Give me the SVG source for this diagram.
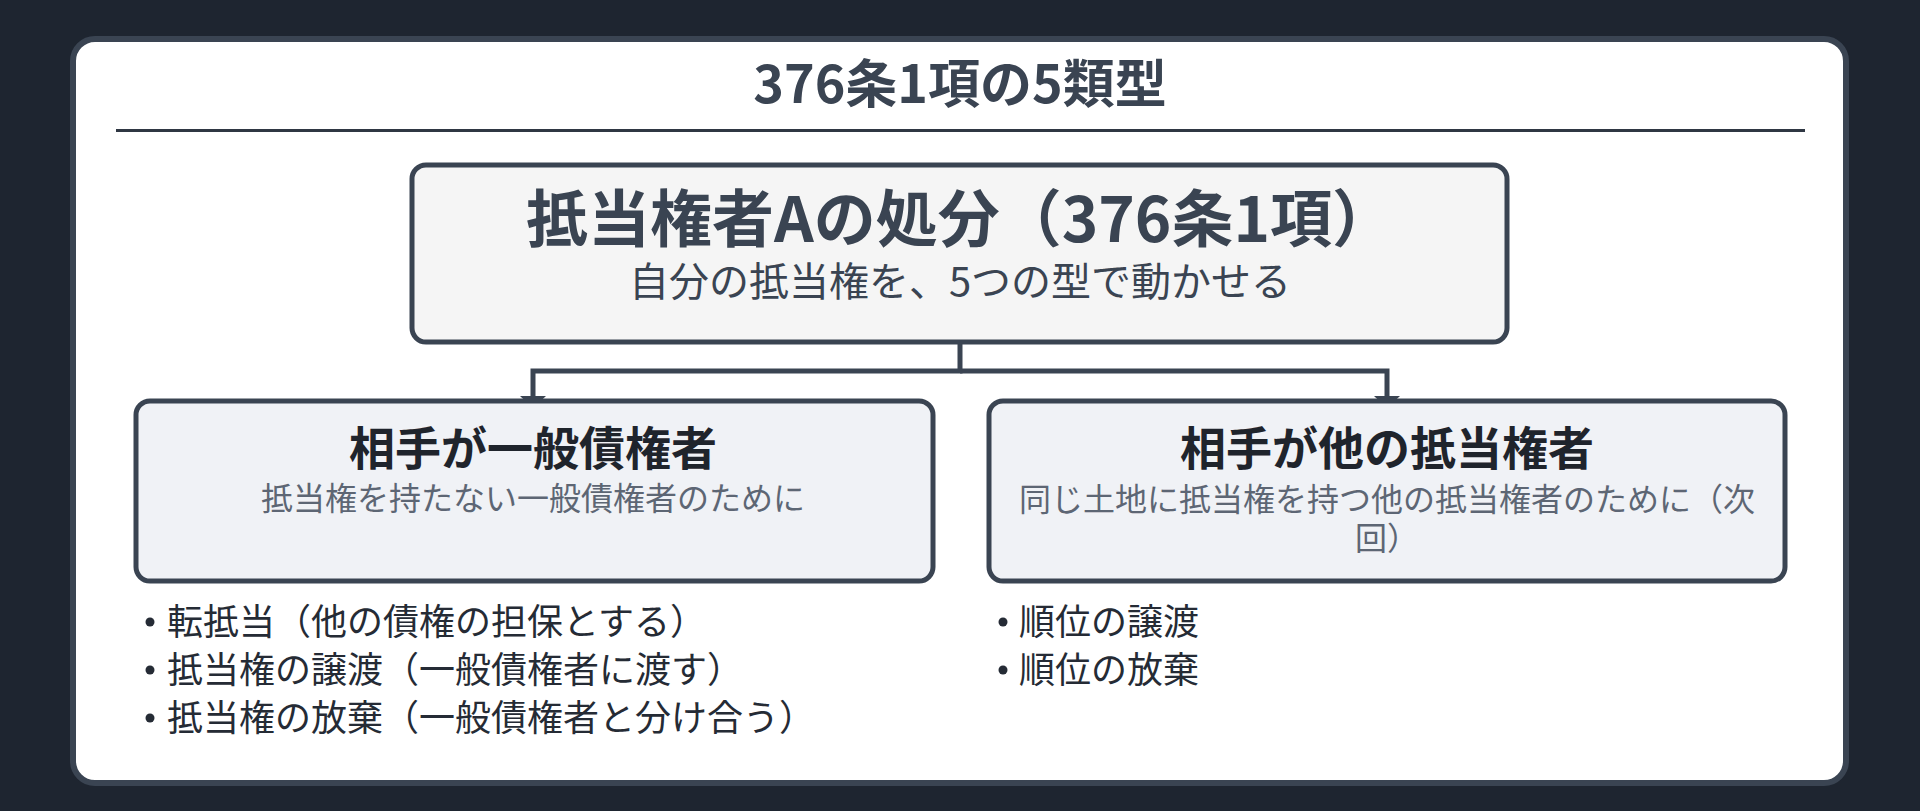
<svg xmlns="http://www.w3.org/2000/svg" width="1920" height="811" viewBox="0 0 1920 811">
<defs>
<style>
text{font-family:"Noto Sans CJK JP","Noto Sans",sans-serif;}
.bg{fill:#1e2530;}
.card{fill:#ffffff;stroke:#3a4452;stroke-width:6;}
.rule{stroke:#2f3743;stroke-width:3;}
.main{fill:#f5f5f5;stroke:#3a4452;stroke-width:5;}
.sub{fill:#f0f2f6;stroke:#3a4452;stroke-width:5;}
.t-title{font-size:52px;font-weight:700;fill:#3a4452;text-anchor:middle;}
.t-main{font-size:62px;font-weight:700;fill:#3a4452;text-anchor:middle;}
.t-mainsub{font-size:40px;fill:#3a4452;text-anchor:middle;}
.t-head{font-size:46px;font-weight:700;fill:#1f242c;text-anchor:middle;}
.t-desc{font-size:32px;fill:#5d6674;text-anchor:middle;}
.t-item{font-size:36px;fill:#252b35;}
.dot{fill:#252b35;}
.conn{fill:none;stroke:#3a4452;stroke-width:5;}
</style>
<marker id="arr" viewBox="0 -13 12 26" refX="0" refY="0" markerWidth="12" markerHeight="26" markerUnits="userSpaceOnUse" orient="auto">
<path d="M0,-13 L12,0 L0,13 z" fill="#3a4452"/>
</marker>
</defs>
<rect class="bg" x="0" y="0" width="1920" height="811"/>
<rect class="card" x="73" y="39" width="1773" height="744" rx="22"/>
<g id="title">
<text class="t-title" x="960" y="103">376条1項の5類型</text>
<line class="rule" x1="116" y1="130.5" x2="1805" y2="130.5"/>
</g>
<g id="connectors">
<path class="conn" d="M960,342 V371 H533 V396" marker-end="url(#arr)"/>
<path class="conn" d="M960,371 H1387 V396" marker-end="url(#arr)"/>
</g>
<g id="node-main">
<rect class="main" x="412" y="165" width="1095" height="177" rx="14"/>
<text class="t-main" x="960" y="242">抵当権者Aの処分（376条1項）</text>
<text class="t-mainsub" x="960" y="296">自分の抵当権を、5つの型で動かせる</text>
</g>
<g id="node-general">
<rect class="sub" x="136" y="401" width="797" height="180" rx="14"/>
<text class="t-head" x="533" y="465">相手が一般債権者</text>
<text class="t-desc" x="533" y="510">抵当権を持たない一般債権者のために</text>
</g>
<g id="node-other">
<rect class="sub" x="989" y="401" width="796" height="180" rx="14"/>
<text class="t-head" x="1387" y="465">相手が他の抵当権者</text>
<text class="t-desc" x="1387" y="511">同じ土地に抵当権を持つ他の抵当権者のために（次</text>
<text class="t-desc" x="1387" y="550">回）</text>
</g>
<g id="list-general">
<circle class="dot" cx="150" cy="622" r="4.5"/>
<text class="t-item" x="167" y="635">転抵当（他の債権の担保とする）</text>
<circle class="dot" cx="150" cy="670" r="4.5"/>
<text class="t-item" x="167" y="683">抵当権の譲渡（一般債権者に渡す）</text>
<circle class="dot" cx="150" cy="718" r="4.5"/>
<text class="t-item" x="167" y="731">抵当権の放棄（一般債権者と分け合う）</text>
</g>
<g id="list-other">
<circle class="dot" cx="1003" cy="622" r="4.5"/>
<text class="t-item" x="1019" y="635">順位の譲渡</text>
<circle class="dot" cx="1003" cy="670" r="4.5"/>
<text class="t-item" x="1019" y="683">順位の放棄</text>
</g>
</svg>
